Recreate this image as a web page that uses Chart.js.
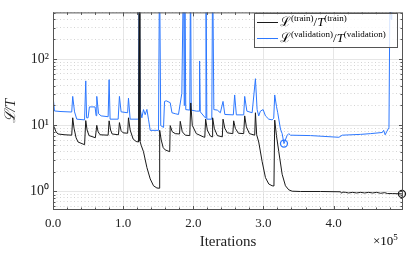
<!DOCTYPE html>
<html>
<head>
<meta charset="utf-8">
<script src="https://cdn.jsdelivr.net/npm/chart.js@4.4.1/dist/chart.umd.min.js"></script>
<style>
  html, body { margin: 0; padding: 0; background: #fff; }
  #wrap { position: relative; width: 415px; height: 257px; font-family: "Liberation Serif", "DejaVu Serif", serif; }
  #legend {
    position: absolute; left: 254px; top: 13px; width: 142px; height: 33px;
    border: 1px solid #555; background: rgba(255,255,255,0.8);
  }
  .row { position: absolute; left: 0; height: 14px; line-height: 14px; font-size: 13px; white-space: nowrap; }
  .row .ln { position: absolute; left: 2px; top: 7px; width: 21px; border-top: 1px solid; }
  .row .tx { position: absolute; left: 25px; top: 0; }
  .row sup { font-size: 9px; vertical-align: 5px; line-height: 0; }
  #mult { position: absolute; left: 373px; top: 233px; font-size: 13px; }
  #mult sup { font-size: 9px; vertical-align: 5px; line-height: 0; }
</style>
</head>
<body>
<div id="wrap">
  <canvas id="lossChart"></canvas>
  <div id="legend">
    <div class="row" style="top:1px"><span class="ln" style="border-color:#1a1a1a"></span><span class="tx">ℒ<sup>(train)</sup>/<i>T</i><sup>(train)</sup></span></div>
    <div class="row" style="top:17px"><span class="ln" style="border-color:rgb(45,120,255)"></span><span class="tx">ℒ<sup>(validation)</sup>/<i>T</i><sup>(validation)</sup></span></div>
  </div>
  <div id="mult">×10<sup>5</sup></div>
</div>
<script>
// iterations and loss ratio (3000 = spike beyond the top)
const trainIter = [0, 4300, 7100, 17100, 26700, 28100, 30000, 32900, 35700, 45000,
  46700, 48600, 51400, 60400, 62400, 64300, 67100, 78600, 80000, 82100,
  84300, 93300, 94700, 97100, 100000, 106400, 107600, 110000, 114300, 118600,
  121900, 122900, 123900, 125700, 129000, 133900, 138600, 143300, 148100, 151400,
  152100, 154300, 157100, 160000, 166400, 167100, 170000, 174300, 180400, 181400,
  184300, 188600, 195000, 196400, 198600, 204300, 214300, 216400, 217600, 220000,
  224300, 226700, 227600, 230000, 234300, 241400, 242400, 245000, 248600, 256400,
  257600, 260000, 264300, 271900, 273300, 275700, 280000, 287600, 288600, 290400,
  293300, 298100, 302900, 307600, 312400, 315000, 316100, 318600, 321900, 326700,
  331400, 336100, 341000, 352900, 381400, 410000, 411400, 413000, 417100, 421400,
  427100, 432900, 438600, 444300, 450000, 455700, 461400, 467100, 472900, 477100,
  484300, 497500];
const trainLoss = [10.3, 8.0, 7.4, 7.2, 7.1, 13, 9, 6.5, 5.6, 5.1,
  11.8, 8.5, 7, 6.5, 10, 8, 7.2, 7.1, 11.7, 8.5,
  7.4, 7.2, 11, 8.3, 7.7, 7.6, 13, 8.5, 6.2, 5.7,
  5.6, 3000, 5.8, 5.0, 4.0, 2.3, 1.55, 1.22, 1.13, 1.12,
  8.4, 6, 4.6, 4.25, 4.0, 9.9, 8.0, 7.5, 7.4, 11.5,
  8, 7.1, 7.0, 21.8, 10, 7.5, 6.7, 6.6, 12.4, 8.5,
  6.9, 6.7, 13, 9, 7, 6.7, 12.4, 9, 7.7, 7.5,
  11.7, 9, 7.6, 7.5, 13.9, 9.5, 7.5, 7.1, 15.5, 7.2,
  5.6, 2.86, 1.62, 1.30, 1.22, 1.21, 12, 7, 4, 1.82,
  1.22, 1.06, 1.01, 1.0, 1.0, 0.99, 0.94, 0.98, 0.97, 0.95,
  0.97, 0.95, 0.97, 0.95, 0.97, 0.95, 0.97, 0.94, 0.96, 0.93,
  0.93, 0.92];

const valIter = [0, 2100, 10000, 26700, 28100, 30700, 33900, 45000, 46700, 47900,
  50000, 51900, 60000, 61400, 62400, 65000, 68600, 78600, 80000, 81400,
  92900, 94700, 97100, 106400, 107600, 110000, 121900, 122900, 124300, 126700,
  129000, 131400, 133900, 136100, 138600, 150400, 151900, 153600, 157600, 159000,
  161400, 167100, 169600, 174300, 178900, 183700, 186100, 187100, 187900, 189300,
  195000, 196100, 197100, 204300, 208600, 209000, 210000, 217100, 218100, 219300,
  226400, 227600, 229300, 234300, 238600, 242400, 245000, 257100, 259000, 261400,
  271900, 273300, 276400, 283900, 288600, 291000, 293300, 295700, 299600, 302900,
  307600, 312400, 314700, 316100, 318600, 320400, 324300, 326700, 329300, 333900,
  336100, 338600, 367100, 407600, 412400, 438600, 452900, 469600, 471400, 473600,
  475700, 479000, 480700, 481900, 483000];
const valLoss = [28, 16.5, 16.2, 15.9, 27.4, 16, 12.4, 12.1, 47, 13,
  13, 19, 19, 14, 27.4, 15, 13.9, 13.5, 49, 12.4,
  12.4, 27.4, 16, 15.5, 25.8, 12.4, 12.4, 3000, 17.3, 13,
  17.3, 14.5, 17.4, 12.4, 8.4, 8.4, 3000, 9.9, 9.3, 23,
  23.5, 22, 15.5, 15, 14.6, 30.6, 3000, 20, 3000, 17.3,
  17, 3000, 17, 16.4, 16.4, 94, 16, 13, 3000, 12.4,
  12.4, 3000, 17.3, 17, 15.5, 23, 14.6, 14.4, 28.8, 14.4,
  14.4, 27.4, 16.4, 15.5, 50.7, 17.3, 13.9, 16.4, 17.3, 13.9,
  12.4, 12.1, 12.8, 28.8, 19.4, 15.5, 8.8, 7.5, 5.3, 7.1,
  7.5, 7.1, 7.0, 6.6, 7.1, 7.3, 7.5, 7.8, 8.4, 7.2,
  8.0, 9.3, 3000, 400, 3000];

const xTicksMajor = [0, 100000, 200000, 300000, 400000];
const yTicksMajor = [1, 10, 100];
const yTickLabels = ['10⁰', '10¹', '10²'];

const xMin = 0, xMax = 499000, yMin = 0.525, yMax = 510;

const toPoints = (xs, ys) => xs.map((v, i) => ({ x: v, y: ys[i] }));
const bestVal = valLoss.indexOf(Math.min(...valLoss));
const last = trainIter.length - 1;

const isMajorX = v => xTicksMajor.includes(v);
const isMajorY = v => yTicksMajor.includes(v);

const frameTicks = {
  id: 'frameTicks',
  afterDraw(chart) {
    const { ctx, chartArea: a, scales: { x, y } } = chart;
    ctx.save();
    ctx.strokeStyle = '#555';
    ctx.lineWidth = 1;
    ctx.beginPath();
    x.ticks.forEach(t => {
      const px = Math.round(x.getPixelForValue(t.value)) + 0.5;
      const len = isMajorX(t.value) ? 4 : 2.5;
      ctx.moveTo(px, a.bottom); ctx.lineTo(px, a.bottom - len);
      ctx.moveTo(px, a.top); ctx.lineTo(px, a.top + len);
    });
    y.ticks.forEach(t => {
      const py = Math.round(y.getPixelForValue(t.value)) + 0.5;
      const len = isMajorY(t.value) ? 4 : 2.5;
      ctx.moveTo(a.left, py); ctx.lineTo(a.left + len, py);
      ctx.moveTo(a.right, py); ctx.lineTo(a.right - len, py);
    });
    ctx.stroke();
    ctx.strokeRect(a.left + 0.5, a.top + 0.5, a.right - a.left - 1, a.bottom - a.top - 1);
    ctx.restore();
  }
};

new Chart(document.getElementById('lossChart'), {
  type: 'line',
  data: {
    datasets: [
      {
        label: 'train',
        data: toPoints(trainIter, trainLoss),
        borderColor: '#1a1a1a',
        borderWidth: 1,
        pointRadius: 0,
        tension: 0
      },
      {
        label: 'validation',
        data: toPoints(valIter, valLoss),
        borderColor: 'rgb(45,120,255)',
        borderWidth: 1,
        pointRadius: 0,
        tension: 0
      },
      {
        label: 'best validation',
        data: [{ x: valIter[bestVal], y: valLoss[bestVal] }],
        showLine: false,
        pointRadius: 3.5,
        pointBorderWidth: 1.3,
        pointBorderColor: 'rgb(45,120,255)',
        pointBackgroundColor: 'rgba(0,0,0,0)',
        clip: false
      },
      {
        label: 'last train',
        data: [{ x: trainIter[last], y: trainLoss[last] }],
        showLine: false,
        pointRadius: 3.5,
        pointBorderWidth: 1.3,
        pointBorderColor: '#1a1a1a',
        pointBackgroundColor: 'rgba(0,0,0,0)',
        clip: false
      }
    ]
  },
  options: {
    responsive: true,
    maintainAspectRatio: false,
    animation: false,
    layout: { padding: { top: 7, right: 12, left: 0, bottom: 0 } },
    plugins: {
      legend: { display: false },
      tooltip: { enabled: false }
    },
    scales: {
      x: {
        type: 'linear',
        min: xMin,
        max: xMax,
        afterBuildTicks: scale => {
          const ticks = [];
          for (let v = 0; v <= xMax; v += 20000) ticks.push({ value: v });
          scale.ticks = ticks;
        },
        afterFit: scale => { scale.height = 47; },
        ticks: {
          autoSkip: false,
          maxRotation: 0,
          padding: 6,
          color: '#222',
          font: { family: 'Liberation Serif', size: 13 },
          callback: v => isMajorX(v) ? (v / 100000).toFixed(1) : ''
        },
        grid: {
          drawTicks: false,
          color: c => c.tick && isMajorX(c.tick.value) ? '#e6e6e6' : 'rgba(0,0,0,0)',
          lineWidth: 1
        },
        border: { display: false },
        title: {
          display: true,
          text: 'Iterations',
          color: '#222',
          font: { family: 'Liberation Serif', size: 15 },
          padding: { top: 0, bottom: 6 }
        }
      },
      y: {
        type: 'logarithmic',
        min: yMin,
        max: yMax,
        afterBuildTicks: scale => {
          const ticks = [];
          for (let e = -1; e <= 2; e++) {
            for (let m = 1; m <= 9; m++) {
              const v = +(m * Math.pow(10, e)).toPrecision(3);
              if (v >= yMin && v <= yMax) ticks.push({ value: v });
            }
          }
          scale.ticks = ticks;
        },
        afterFit: scale => { scale.width = 53; },
        ticks: {
          autoSkip: false,
          padding: 4,
          color: '#222',
          font: { family: 'Liberation Serif', size: 14 },
          callback: v => {
            const i = yTicksMajor.indexOf(v);
            return i >= 0 ? yTickLabels[i] : '';
          }
        },
        grid: {
          drawTicks: false,
          color: c => c.tick && isMajorY(c.tick.value) ? '#e6e6e6' : '#d4d4d4',
          lineWidth: 1
        },
        border: {
          display: false,
          dash: c => c.tick && isMajorY(c.tick.value) ? [] : [1, 2.5]
        },
        title: {
          display: true,
          text: 'ℒ/T',
          color: '#222',
          font: { family: 'Liberation Serif', size: 15, style: 'italic' },
          padding: { top: 2, bottom: 0 }
        }
      }
    }
  },
  plugins: [frameTicks]
});
</script>
</body>
</html>
